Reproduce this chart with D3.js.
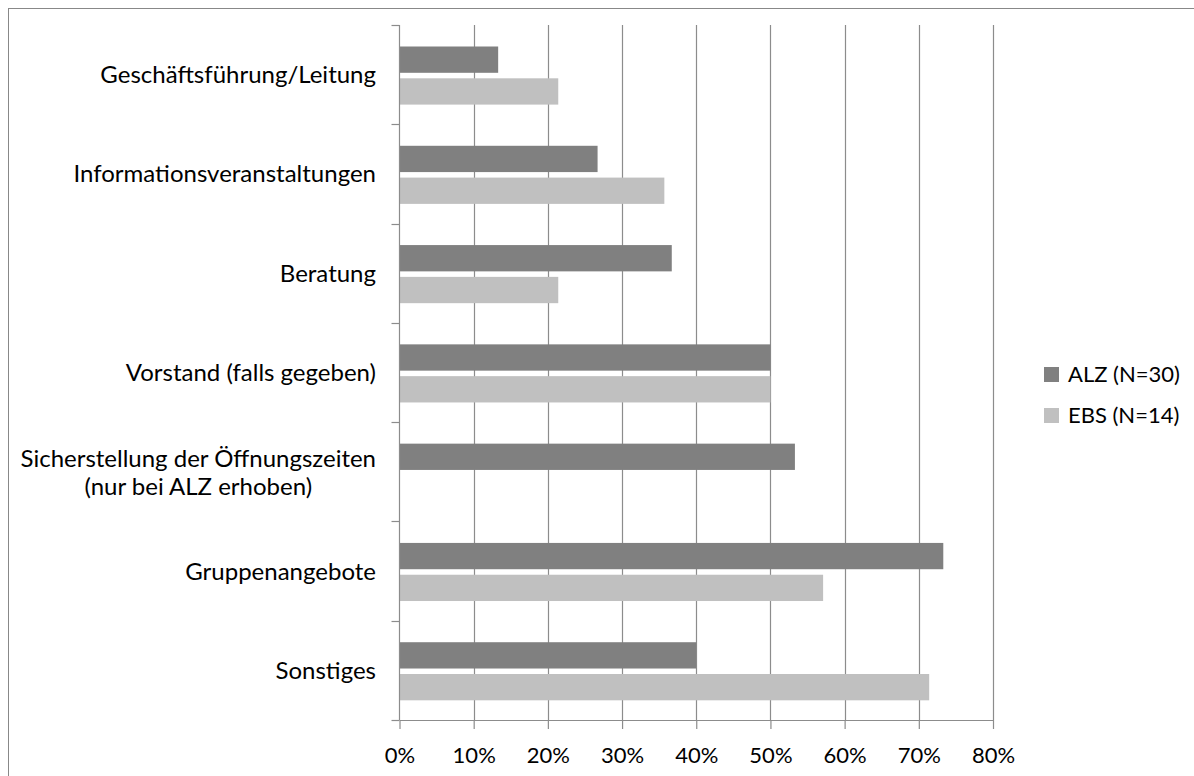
<!DOCTYPE html>
<html><head><meta charset="utf-8">
<script src="https://cdn.jsdelivr.net/npm/d3@7"></script>
<style>body{margin:0;background:#fff}svg{display:block}</style>
</head><body>
<svg id="c" width="1194" height="776"></svg>
<script>
const categories = ["Geschäftsführung/Leitung","Informationsveranstaltungen","Beratung","Vorstand (falls gegeben)","Sicherstellung der Öffnungszeiten\n(nur bei ALZ erhoben)","Gruppenangebote","Sonstiges"];
const seriesNames = ["ALZ (N=30)","EBS (N=14)"];
const alzValues = [0.133,0.267,0.367,0.50,0.533,0.733,0.40];
const ebsValues = [0.214,0.357,0.214,0.50,null,0.571,0.714];
const xTicks = [0,0.1,0.2,0.3,0.4,0.5,0.6,0.7,0.8];
const colors = ["#808080","#c0c0c0"];

const svg = d3.select("#c");
const font = "Lato, 'Open Sans', sans-serif";
const fsLab = 24, fsTick = 22, fsLeg = 22;
svg.append("rect").attr("x",8.5).attr("y",8.5).attr("width",1200).attr("height",800).attr("fill","#fff").attr("stroke","#888").attr("stroke-width",1);

const x0=399.5, x1=993, yTop=25, yBot=720;
const x = d3.scaleLinear().domain([0,0.8]).range([x0,x1]);
const y = d3.scaleBand().domain(categories).range([yTop,yBot]);
const bw = y.bandwidth();
const series = [alzValues, ebsValues];

// gridlines
svg.append("g").selectAll("line").data(xTicks.slice(1)).join("line")
  .attr("x1",d=>Math.round(x(d))+0.5).attr("x2",d=>Math.round(x(d))+0.5)
  .attr("y1",yTop).attr("y2",yBot).attr("stroke","#8c8c8c").attr("stroke-width",1.2);

// bars
const barH = 26.3, off0 = 21.5, gap = 5.5;
series.forEach((vals,si)=>{
  svg.append("g").selectAll("rect").data(categories.map((c,i)=>({c,v:vals[i]})).filter(d=>d.v!=null)).join("rect")
    .attr("x",x(0)).attr("width",d=>x(d.v)-x(0))
    .attr("y",d=>y(d.c)+off0+si*(barH+gap)).attr("height",barH)
    .attr("fill",colors[si]);
});

// x axis
const xa = svg.append("g").attr("transform",`translate(0,${yBot})`)
  .call(d3.axisBottom(x).tickValues(xTicks).tickFormat(d3.format(".0%")).tickSizeInner(9).tickSizeOuter(0));
xa.select(".domain").attr("stroke","#8c8c8c").attr("stroke-width",1.2);
xa.selectAll(".tick line").attr("stroke","#8c8c8c").attr("stroke-width",1.2);
xa.selectAll("text").attr("font-family",font).attr("font-size",fsTick).attr("fill","#000").attr("y",0).attr("dy",null)
  .attr("transform","translate(0,43)");

// y axis
const ya = svg.append("g").attr("transform",`translate(${x0},0)`);
ya.append("line").attr("x1",0).attr("x2",0).attr("y1",yTop).attr("y2",yBot).attr("stroke","#8c8c8c").attr("stroke-width",1.2);
const yt = categories.map(c=>y(c)).concat([yBot]);
ya.selectAll("line.t").data(yt).join("line").attr("class","t")
  .attr("x1",-8).attr("x2",0).attr("y1",d=>Math.round(d)+0.5).attr("y2",d=>Math.round(d)+0.5).attr("stroke","#8c8c8c").attr("stroke-width",1.2);

// category labels
categories.forEach(c=>{
  const lines = c.split("\n");
  const cy = y(c)+bw/2;
  if(lines.length===1){
    svg.append("text").attr("x",376).attr("y",cy+8.5).attr("text-anchor","end")
      .attr("font-family",font).attr("font-size",fsLab).attr("fill","#000").text(c);
  } else {
    const t = svg.append("text").attr("font-family",font).attr("font-size",fsLab).attr("fill","#000").attr("text-anchor","middle");
    const tmp = svg.append("text").attr("font-family",font).attr("font-size",fsLab).text(lines[0]);
    const w = tmp.node().getComputedTextLength(); tmp.remove();
    const cx = 376 - w/2;
    lines.forEach((l,i)=>{
      t.append("tspan").attr("x",cx).attr("y",cy-4.5+i*27.5).text(l);
    });
  }
});

// legend
seriesNames.forEach((n,i)=>{
  const ly = 367+i*41;
  svg.append("rect").attr("x",1044).attr("y",ly).attr("width",15).attr("height",15).attr("fill",colors[i]);
  svg.append("text").attr("x",1068).attr("y",ly+15).attr("font-family",font).attr("font-size",fsLeg).attr("fill","#000").text(n);
});
</script>
</body></html>
